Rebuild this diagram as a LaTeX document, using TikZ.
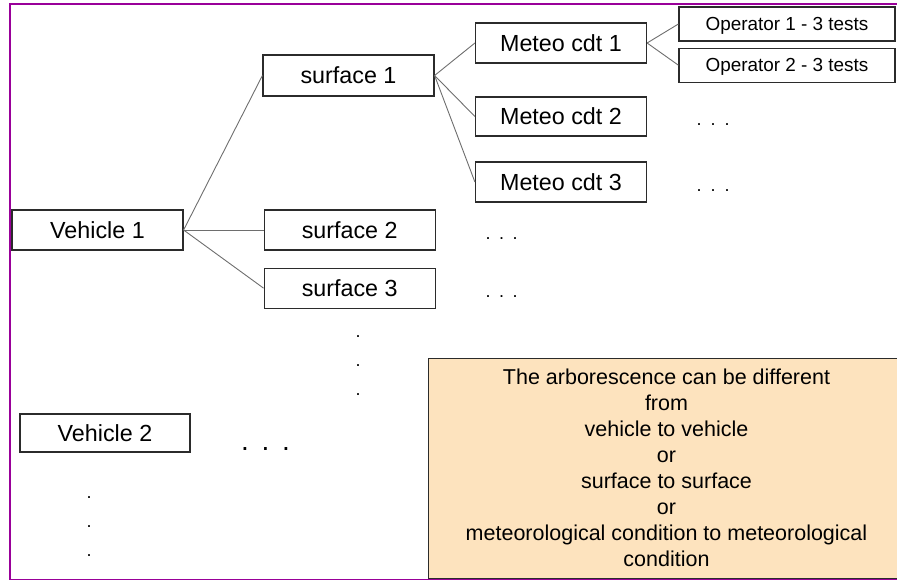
\documentclass[tikz,border=0pt]{standalone}
\usepackage{fontspec}
\setmainfont{Liberation Sans}
\usetikzlibrary{positioning}
\definecolor{framec}{HTML}{990099}
\definecolor{inkc}{HTML}{2B2B2B}
\definecolor{linkc}{HTML}{6E6E6E}
\definecolor{notec}{HTML}{FDE3BE}
\newcommand{\lab}{\fontsize{23.3}{28}\selectfont}
\newcommand{\oplab}{\fontsize{18.9}{22}\selectfont}
\newcommand{\notelab}{\fontsize{21.5}{26}\selectfont}
\newcommand{\dotrow}[1]{.\hspace{#1}.\hspace{#1}.}
\tikzset{
  frm/.style   ={draw=framec,line width=2pt},
  box/.style   ={draw=inkc,line width=1.2pt,fill=white,minimum width=171pt,
                 minimum height=40pt,inner sep=0pt,font=\lab,
                 text height=16.5pt,text depth=0pt},
  opbox/.style ={box,minimum width=216pt,minimum height=34pt,font=\oplab,
                 text height=13.5pt},
  note/.style  ={draw=inkc,line width=1pt,fill=notec,align=center,
                 minimum width=477pt,minimum height=220pt,font=\notelab},
  link/.style  ={draw=linkc,line width=.9pt},
  dotr/.style  ={inner sep=0pt,anchor=base,font=\fontsize{18}{18}\selectfont},
  dotbig/.style={dotr,font=\fontsize{28}{28}\selectfont},
  dotc/.style  ={inner sep=0pt,anchor=base,align=center,
                 font=\fontsize{18}{29}\selectfont},
}
\begin{document}
\begin{tikzpicture}[x=1pt,y=-1pt]
\clip (0,0) rectangle (897,580);
\draw[frm] (10,4.5) rectangle (910,579.5);

% vehicles and surfaces
\node[box] (v1) at (97.5,230) {Vehicle 1};
\node[box,minimum height=41pt] (s1) at (348.5,75.5) {surface 1};
\node[box,right=80pt of v1] (s2) {surface 2};
\node[box,below=17pt of s2] (s3) {surface 3};
\node[box,minimum width=170pt,minimum height=38pt] (v2) at (105,433) {Vehicle 2};
\draw[link](v1.east)--(s1.west); \draw[link](v1.east)--(s2.west);
\draw[link](v1.east)--(s3.west);

% meteo conditions
\node[box] (m1) at (561,43) {Meteo cdt 1};
\node[box,minimum height=39pt] (m2) at (561,116.5) {Meteo cdt 2};
\node[box] (m3) at (561,182) {Meteo cdt 3};
\draw[link](s1.east)--(m1.west); \draw[link](s1.east)--(m2.west);
\draw[link](s1.east)--(m3.west);

% operators
\node[opbox] (o1) at (787,24) {Operator 1 - 3 tests};
\node[opbox,below=6pt of o1] (o2) {Operator 2 - 3 tests};
\draw[link](m1.east)--(o1.west); \draw[link](m1.east)--(o2.west);

% continuation dots
\node[dotr] (dm2) at (713,126) {\dotrow{9pt}};
\node[dotr] (dm3) at (713,192) {\dotrow{9pt}};
\node[dotr] (ds2) at (501.5,240) {\dotrow{8.5pt}};
\node[dotr] (ds3) at (501.5,297) {\dotrow{8.5pt}};
\node[dotc] (dsv) at (358,395) {.\\.\\.};
\node[dotbig] (dv2) at (265.5,450) {\dotrow{12.7pt}};
\node[dotc] (dvv) at (89,556) {.\\.\\.};

% remark
\node[note] (nt) at (666.5,468) {The arborescence can be different\\from\\vehicle to vehicle\\or\\
  surface to surface\\or\\meteorological condition to meteorological\\condition};
\end{tikzpicture}
\end{document}
